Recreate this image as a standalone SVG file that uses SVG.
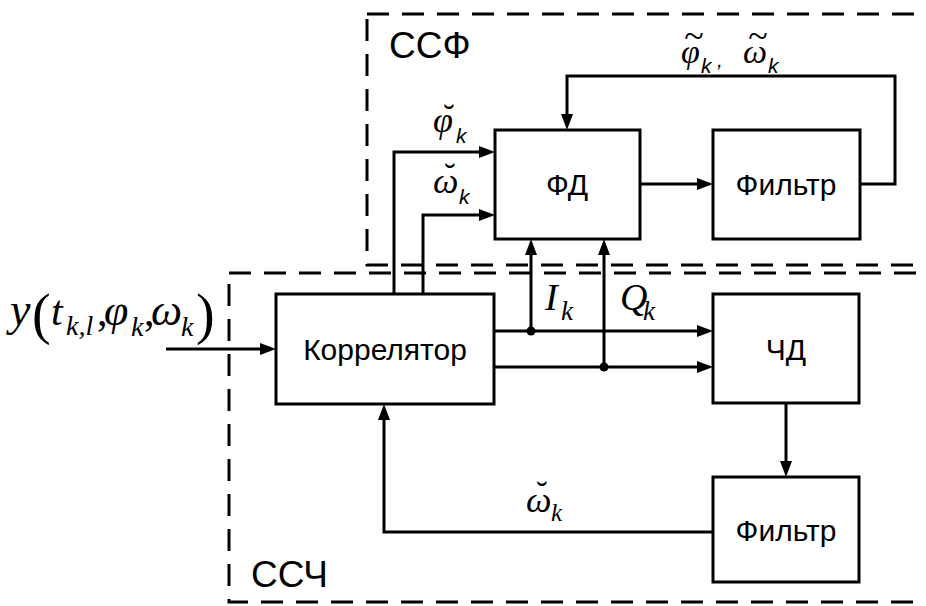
<svg xmlns="http://www.w3.org/2000/svg" width="926" height="606" viewBox="0 0 926 606">
<style>
  .bg{fill:#fff}
  .box{fill:#fff;stroke:#000;stroke-width:3}
  .dash{fill:none;stroke:#000;stroke-width:3;stroke-dasharray:22 13}
  .ln{fill:none;stroke:#000;stroke-width:3}
  .lbl{font-family:"Liberation Sans",Arial,sans-serif;font-size:30px;fill:#000;text-anchor:middle}
  .grp{font-family:"Liberation Sans",Arial,sans-serif;font-size:37px;fill:#000}
  .m{font-family:"Liberation Serif","Times New Roman",serif;font-style:italic;fill:#000}
  .mu{font-family:"Liberation Serif","Times New Roman",serif;fill:#000}
  .ks{font-family:"Liberation Sans",Arial,sans-serif;font-style:italic;font-size:21px;fill:#000}
  .brv{font-family:"Liberation Serif","Times New Roman",serif;font-size:34px;fill:#000;text-anchor:middle}
  .tld{font-family:"Liberation Serif","Times New Roman",serif;font-size:36px;fill:#000;text-anchor:middle}
</style>
<defs>
  <marker id="ah" viewBox="0 0 16 12" refX="6" refY="6" markerWidth="16" markerHeight="12" markerUnits="userSpaceOnUse" orient="auto">
    <path d="M0,0 L16,6 L0,12 z" fill="#000"/>
  </marker>
</defs>
<rect class="bg" x="0" y="0" width="926" height="606"/>

<g id="region-ssf">
  <rect class="dash" x="367" y="14" width="620" height="251"/>
  <text class="grp" x="389" y="58">ССФ</text>
</g>
<g id="region-ssch">
  <rect class="dash" x="229" y="273" width="720" height="329"/>
  <text class="grp" x="251" y="587">ССЧ</text>
</g>

<g id="connectors">
  <path class="ln" d="M166,349 H266" marker-end="url(#ah)"/>
  <path class="ln" d="M394,294 V152 H485" marker-end="url(#ah)"/>
  <path class="ln" d="M423,294 V215 H485" marker-end="url(#ah)"/>
  <path class="ln" d="M494,331 H703" marker-end="url(#ah)"/>
  <path class="ln" d="M531,331 V249" marker-end="url(#ah)"/>
  <path class="ln" d="M494,367 H703" marker-end="url(#ah)"/>
  <path class="ln" d="M604,367 V249" marker-end="url(#ah)"/>
  <circle cx="531" cy="331" r="4.5" fill="#000"/>
  <circle cx="604" cy="367" r="4.5" fill="#000"/>
  <path class="ln" d="M640,184 H703" marker-end="url(#ah)"/>
  <path class="ln" d="M860,184 H895 V76 H567 V120" marker-end="url(#ah)"/>
  <path class="ln" d="M786,403 V467" marker-end="url(#ah)"/>
  <path class="ln" d="M713,532 H384 V414" marker-end="url(#ah)"/>
</g>

<g id="correlator">
  <rect class="box" x="276" y="294" width="218" height="110"/>
  <text class="lbl" x="385" y="360">Коррелятор</text>
</g>
<g id="fd">
  <rect class="box" x="495" y="130" width="145" height="109"/>
  <text class="lbl" x="567" y="195">ФД</text>
</g>
<g id="filter-top">
  <rect class="box" x="713" y="130" width="147" height="109"/>
  <text class="lbl" x="786" y="195">Фильтр</text>
</g>
<g id="chd">
  <rect class="box" x="713" y="294" width="146" height="109"/>
  <text class="lbl" x="786" y="360">ЧД</text>
</g>
<g id="filter-bottom">
  <rect class="box" x="713" y="477" width="146" height="105"/>
  <text class="lbl" x="786" y="541">Фильтр</text>
</g>

<g id="label-input">
  <text class="m" x="10" y="325" font-size="46">y</text>
  <text class="mu" x="32" y="333" font-size="56">(</text>
  <text class="m" x="51" y="325" font-size="42">t</text>
  <text class="m" x="66" y="335" font-size="28">k,l</text>
  <text class="mu" x="97" y="325" font-size="42">,</text>
  <text class="m" x="104" y="325" font-size="44">φ</text>
  <text class="m" x="131" y="336" font-size="28">k</text>
  <text class="mu" x="144" y="325" font-size="42">,</text>
  <text class="m" x="151" y="325" font-size="44">ω</text>
  <text class="m" x="181" y="336" font-size="28">k</text>
  <text class="mu" x="196" y="333" font-size="56">)</text>
</g>

<g id="label-phi-breve">
  <text class="m" x="433" y="132" font-size="36">φ</text>
  <text class="brv" x="449" y="128">˘</text>
  <text class="ks" x="456" y="143">k</text>
</g>
<g id="label-omega-breve-top">
  <text class="m" x="433" y="193" font-size="36">ω</text>
  <text class="brv" x="450" y="187">˘</text>
  <text class="ks" x="459" y="204">k</text>
</g>
<g id="label-feedback">
  <text class="m" x="681" y="63" font-size="34">φ</text>
  <text class="tld" x="694" y="48">~</text>
  <text class="ks" x="701" y="73">k</text>
  <text class="ks" x="717" y="67" font-style="normal" font-size="26">,</text>
  <text class="m" x="743" y="63" font-size="34">ω</text>
  <text class="tld" x="758" y="48">~</text>
  <text class="ks" x="768" y="73">k</text>
</g>
<g id="label-I">
  <text class="m" x="545" y="310" font-size="38">I</text>
  <text class="m" x="561" y="320" font-size="27">k</text>
</g>
<g id="label-Q">
  <text class="m" x="620" y="310" font-size="38">Q</text>
  <text class="m" x="643" y="320" font-size="27">k</text>
</g>
<g id="label-omega-breve-bottom">
  <text class="m" x="526" y="512" font-size="36">ω</text>
  <text class="brv" x="542" y="505">˘</text>
  <text class="m" x="551" y="521" font-size="25">k</text>
</g>
</svg>
